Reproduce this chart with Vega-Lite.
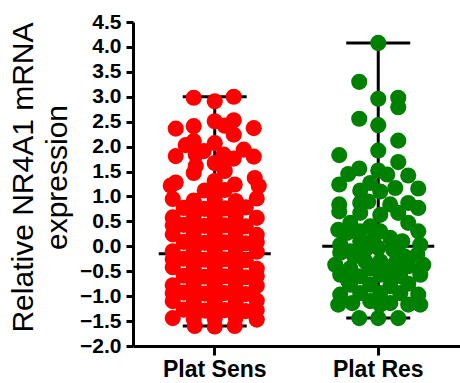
{
  "$schema": "https://vega.github.io/schema/vega-lite/v6.json",
  "width": 327,
  "height": 324,
  "autosize": {"type": "none"},
  "padding": {"left": 133, "top": 22, "right": 0, "bottom": 37},
  "background": "white",
  "config": {"view": {"stroke": null}, "font": "Liberation Sans"},
  "datasets": {
    "summary": [
      {"group": "Plat Sens", "min": -1.6, "median": -0.15, "max": 3.0},
      {"group": "Plat Res", "min": -1.44, "median": 0.0, "max": 4.08}
    ],
    "points": [
      {"group": "Plat Sens", "value": 2.98, "slot": -1.05},
      {"group": "Plat Sens", "value": 2.91, "slot": 0},
      {"group": "Plat Sens", "value": 3.0, "slot": 0.95},
      {"group": "Plat Sens", "value": 2.51, "slot": 0},
      {"group": "Plat Sens", "value": 2.53, "slot": 0.95},
      {"group": "Plat Sens", "value": 2.36, "slot": -1.95},
      {"group": "Plat Sens", "value": 2.41, "slot": -1.05},
      {"group": "Plat Sens", "value": 2.37, "slot": 1.95},
      {"group": "Plat Sens", "value": 2.42, "slot": 0.5},
      {"group": "Plat Sens", "value": 2.24, "slot": 0.95},
      {"group": "Plat Sens", "value": 2.07, "slot": 0},
      {"group": "Plat Sens", "value": 2.03, "slot": -1.45},
      {"group": "Plat Sens", "value": 2.11, "slot": -1.05},
      {"group": "Plat Sens", "value": 1.94, "slot": 1.45},
      {"group": "Plat Sens", "value": 1.81, "slot": -1.95},
      {"group": "Plat Sens", "value": 1.8, "slot": 1.95},
      {"group": "Plat Sens", "value": 1.84, "slot": -0.95},
      {"group": "Plat Sens", "value": 1.91, "slot": -0.55},
      {"group": "Plat Sens", "value": 1.84, "slot": 0.45},
      {"group": "Plat Sens", "value": 1.76, "slot": 0.95},
      {"group": "Plat Sens", "value": 1.67, "slot": 0},
      {"group": "Plat Sens", "value": 1.61, "slot": -0.95},
      {"group": "Plat Sens", "value": 1.57, "slot": 0.45},
      {"group": "Plat Sens", "value": 1.22, "slot": -2.2},
      {"group": "Plat Sens", "value": 1.28, "slot": -1.95},
      {"group": "Plat Sens", "value": 1.37, "slot": 2.0},
      {"group": "Plat Sens", "value": 1.21, "slot": 2.2},
      {"group": "Plat Sens", "value": 1.31, "slot": 0},
      {"group": "Plat Sens", "value": 1.24, "slot": 1.0},
      {"group": "Plat Sens", "value": 1.47, "slot": -1.05},
      {"group": "Plat Sens", "value": 1.51, "slot": 0.5},
      {"group": "Plat Sens", "value": 1.12, "slot": -0.5},
      {"group": "Plat Sens", "value": 1.13, "slot": 0.5},
      {"group": "Plat Sens", "value": 1.05, "slot": 0},
      {"group": "Plat Sens", "value": 0.95, "slot": -2.1},
      {"group": "Plat Sens", "value": 0.92, "slot": -1.05},
      {"group": "Plat Sens", "value": 0.94, "slot": 0},
      {"group": "Plat Sens", "value": 0.91, "slot": 1.05},
      {"group": "Plat Sens", "value": 0.96, "slot": 2.1},
      {"group": "Plat Sens", "value": 0.77, "slot": -1.55},
      {"group": "Plat Sens", "value": 0.75, "slot": -0.5},
      {"group": "Plat Sens", "value": 0.76, "slot": 0.5},
      {"group": "Plat Sens", "value": 0.78, "slot": 1.55},
      {"group": "Plat Sens", "value": 0.74, "slot": -1.05},
      {"group": "Plat Sens", "value": 0.79, "slot": 0},
      {"group": "Plat Sens", "value": 0.77, "slot": 1.05},
      {"group": "Plat Sens", "value": 0.58, "slot": -2.1},
      {"group": "Plat Sens", "value": 0.6, "slot": -1.05},
      {"group": "Plat Sens", "value": 0.59, "slot": 0},
      {"group": "Plat Sens", "value": 0.61, "slot": 1.05},
      {"group": "Plat Sens", "value": 0.57, "slot": 2.1},
      {"group": "Plat Sens", "value": 0.43, "slot": -1.55},
      {"group": "Plat Sens", "value": 0.41, "slot": -0.5},
      {"group": "Plat Sens", "value": 0.42, "slot": 0.5},
      {"group": "Plat Sens", "value": 0.4, "slot": 1.55},
      {"group": "Plat Sens", "value": 0.42, "slot": -2.1},
      {"group": "Plat Sens", "value": 0.44, "slot": -1.05},
      {"group": "Plat Sens", "value": 0.41, "slot": 0},
      {"group": "Plat Sens", "value": 0.43, "slot": 1.05},
      {"group": "Plat Sens", "value": 0.24, "slot": -2.1},
      {"group": "Plat Sens", "value": 0.26, "slot": -1.05},
      {"group": "Plat Sens", "value": 0.25, "slot": 0},
      {"group": "Plat Sens", "value": 0.27, "slot": 1.05},
      {"group": "Plat Sens", "value": 0.23, "slot": 2.1},
      {"group": "Plat Sens", "value": 0.09, "slot": -1.55},
      {"group": "Plat Sens", "value": 0.07, "slot": -0.5},
      {"group": "Plat Sens", "value": 0.08, "slot": 0.5},
      {"group": "Plat Sens", "value": 0.06, "slot": 1.55},
      {"group": "Plat Sens", "value": 0.08, "slot": -1.05},
      {"group": "Plat Sens", "value": 0.07, "slot": 0},
      {"group": "Plat Sens", "value": 0.09, "slot": 1.05},
      {"group": "Plat Sens", "value": 0.08, "slot": 2.1},
      {"group": "Plat Sens", "value": -0.1, "slot": -2.1},
      {"group": "Plat Sens", "value": -0.08, "slot": -1.05},
      {"group": "Plat Sens", "value": -0.09, "slot": 0},
      {"group": "Plat Sens", "value": -0.07, "slot": 1.05},
      {"group": "Plat Sens", "value": -0.11, "slot": 2.1},
      {"group": "Plat Sens", "value": -0.25, "slot": -1.55},
      {"group": "Plat Sens", "value": -0.27, "slot": -0.5},
      {"group": "Plat Sens", "value": -0.26, "slot": 0.5},
      {"group": "Plat Sens", "value": -0.28, "slot": 1.55},
      {"group": "Plat Sens", "value": -0.26, "slot": -2.1},
      {"group": "Plat Sens", "value": -0.25, "slot": -1.05},
      {"group": "Plat Sens", "value": -0.27, "slot": 0},
      {"group": "Plat Sens", "value": -0.26, "slot": 1.05},
      {"group": "Plat Sens", "value": -0.42, "slot": -2.1},
      {"group": "Plat Sens", "value": -0.44, "slot": -1.05},
      {"group": "Plat Sens", "value": -0.43, "slot": 0},
      {"group": "Plat Sens", "value": -0.41, "slot": 1.05},
      {"group": "Plat Sens", "value": -0.45, "slot": 2.1},
      {"group": "Plat Sens", "value": -0.59, "slot": -1.55},
      {"group": "Plat Sens", "value": -0.61, "slot": -0.5},
      {"group": "Plat Sens", "value": -0.6, "slot": 0.5},
      {"group": "Plat Sens", "value": -0.62, "slot": 1.55},
      {"group": "Plat Sens", "value": -0.6, "slot": -1.05},
      {"group": "Plat Sens", "value": -0.61, "slot": 0},
      {"group": "Plat Sens", "value": -0.59, "slot": 1.05},
      {"group": "Plat Sens", "value": -0.6, "slot": 2.1},
      {"group": "Plat Sens", "value": -0.78, "slot": -2.1},
      {"group": "Plat Sens", "value": -0.76, "slot": -1.05},
      {"group": "Plat Sens", "value": -0.77, "slot": 0},
      {"group": "Plat Sens", "value": -0.75, "slot": 1.05},
      {"group": "Plat Sens", "value": -0.79, "slot": 2.1},
      {"group": "Plat Sens", "value": -0.93, "slot": -1.55},
      {"group": "Plat Sens", "value": -0.95, "slot": -0.5},
      {"group": "Plat Sens", "value": -0.94, "slot": 0.5},
      {"group": "Plat Sens", "value": -0.96, "slot": 1.55},
      {"group": "Plat Sens", "value": -0.94, "slot": -2.1},
      {"group": "Plat Sens", "value": -0.95, "slot": -1.05},
      {"group": "Plat Sens", "value": -0.93, "slot": 0},
      {"group": "Plat Sens", "value": -0.94, "slot": 1.05},
      {"group": "Plat Sens", "value": -1.1, "slot": -2.1},
      {"group": "Plat Sens", "value": -1.12, "slot": -1.05},
      {"group": "Plat Sens", "value": -1.11, "slot": 0},
      {"group": "Plat Sens", "value": -1.13, "slot": 1.05},
      {"group": "Plat Sens", "value": -1.09, "slot": 2.1},
      {"group": "Plat Sens", "value": -1.27, "slot": -1.55},
      {"group": "Plat Sens", "value": -1.29, "slot": -0.5},
      {"group": "Plat Sens", "value": -1.28, "slot": 0.5},
      {"group": "Plat Sens", "value": -1.3, "slot": 1.55},
      {"group": "Plat Sens", "value": -1.28, "slot": -1.05},
      {"group": "Plat Sens", "value": -1.27, "slot": 0},
      {"group": "Plat Sens", "value": -1.29, "slot": 1.05},
      {"group": "Plat Sens", "value": -1.28, "slot": 2.1},
      {"group": "Plat Sens", "value": -1.44, "slot": -2.1},
      {"group": "Plat Sens", "value": -1.46, "slot": -1.05},
      {"group": "Plat Sens", "value": -1.45, "slot": 0},
      {"group": "Plat Sens", "value": -1.43, "slot": 1.05},
      {"group": "Plat Sens", "value": -1.47, "slot": 2.1},
      {"group": "Plat Sens", "value": -1.6, "slot": -1.0},
      {"group": "Plat Sens", "value": -1.61, "slot": 0},
      {"group": "Plat Sens", "value": -1.6, "slot": 1.0},
      {"group": "Plat Res", "value": 4.08, "slot": 0},
      {"group": "Plat Res", "value": 3.3, "slot": -0.95},
      {"group": "Plat Res", "value": 2.96, "slot": 0},
      {"group": "Plat Res", "value": 2.98, "slot": 1.0},
      {"group": "Plat Res", "value": 2.79, "slot": 1.0},
      {"group": "Plat Res", "value": 2.56, "slot": -0.95},
      {"group": "Plat Res", "value": 2.43, "slot": 0},
      {"group": "Plat Res", "value": 2.12, "slot": 1.0},
      {"group": "Plat Res", "value": 1.83, "slot": -1.95},
      {"group": "Plat Res", "value": 1.92, "slot": 0},
      {"group": "Plat Res", "value": 1.69, "slot": 1.0},
      {"group": "Plat Res", "value": 1.56, "slot": -0.95},
      {"group": "Plat Res", "value": 1.45, "slot": -1.5},
      {"group": "Plat Res", "value": 1.52, "slot": 0},
      {"group": "Plat Res", "value": 1.44, "slot": 0.45},
      {"group": "Plat Res", "value": 1.42, "slot": 1.5},
      {"group": "Plat Res", "value": 1.24, "slot": -1.95},
      {"group": "Plat Res", "value": 1.27, "slot": -0.4},
      {"group": "Plat Res", "value": 1.12, "slot": -0.9},
      {"group": "Plat Res", "value": 1.1, "slot": 0.1},
      {"group": "Plat Res", "value": 1.17, "slot": 0.85},
      {"group": "Plat Res", "value": 1.16, "slot": 2.0},
      {"group": "Plat Res", "value": 0.84, "slot": -1.95},
      {"group": "Plat Res", "value": 0.7, "slot": -1.95},
      {"group": "Plat Res", "value": 0.87, "slot": -0.9},
      {"group": "Plat Res", "value": 0.9, "slot": -0.5},
      {"group": "Plat Res", "value": 0.84, "slot": 0.6},
      {"group": "Plat Res", "value": 0.87, "slot": 1.5},
      {"group": "Plat Res", "value": 0.77, "slot": 2.0},
      {"group": "Plat Res", "value": 0.67, "slot": -0.9},
      {"group": "Plat Res", "value": 0.67, "slot": 1.0},
      {"group": "Plat Res", "value": 0.63, "slot": 0.1},
      {"group": "Plat Res", "value": 0.33, "slot": -2.0},
      {"group": "Plat Res", "value": 0.47, "slot": -1.4},
      {"group": "Plat Res", "value": 0.4, "slot": -0.4},
      {"group": "Plat Res", "value": 0.47, "slot": 1.5},
      {"group": "Plat Res", "value": 0.3, "slot": 2.0},
      {"group": "Plat Res", "value": 0.27, "slot": -1.55},
      {"group": "Plat Res", "value": 0.3, "slot": -0.9},
      {"group": "Plat Res", "value": 0.3, "slot": 0.1},
      {"group": "Plat Res", "value": 0.17, "slot": 0.6},
      {"group": "Plat Res", "value": 0.03, "slot": -1.9},
      {"group": "Plat Res", "value": 0.1, "slot": -0.9},
      {"group": "Plat Res", "value": 0.13, "slot": -0.25},
      {"group": "Plat Res", "value": 0.1, "slot": 1.2},
      {"group": "Plat Res", "value": 0.03, "slot": 2.1},
      {"group": "Plat Res", "value": -0.03, "slot": 0},
      {"group": "Plat Res", "value": -0.13, "slot": -1.9},
      {"group": "Plat Res", "value": -0.1, "slot": -1.4},
      {"group": "Plat Res", "value": -0.07, "slot": -0.65},
      {"group": "Plat Res", "value": -0.07, "slot": 0.75},
      {"group": "Plat Res", "value": -0.17, "slot": 1.95},
      {"group": "Plat Res", "value": -0.2, "slot": -1.2},
      {"group": "Plat Res", "value": -0.2, "slot": 1.3},
      {"group": "Plat Res", "value": -0.37, "slot": -2.15},
      {"group": "Plat Res", "value": -0.44, "slot": -1.4},
      {"group": "Plat Res", "value": -0.3, "slot": -0.65},
      {"group": "Plat Res", "value": -0.3, "slot": 0.1},
      {"group": "Plat Res", "value": -0.34, "slot": 0.85},
      {"group": "Plat Res", "value": -0.4, "slot": 1.5},
      {"group": "Plat Res", "value": -0.37, "slot": 2.25},
      {"group": "Plat Res", "value": -0.45, "slot": -0.4},
      {"group": "Plat Res", "value": -0.5, "slot": 0.6},
      {"group": "Plat Res", "value": -0.57, "slot": -1.9},
      {"group": "Plat Res", "value": -0.6, "slot": -0.9},
      {"group": "Plat Res", "value": -0.57, "slot": 0.1},
      {"group": "Plat Res", "value": -0.6, "slot": 1.1},
      {"group": "Plat Res", "value": -0.57, "slot": 2.1},
      {"group": "Plat Res", "value": -0.7, "slot": -1.5},
      {"group": "Plat Res", "value": -0.75, "slot": 1.5},
      {"group": "Plat Res", "value": -0.77, "slot": -0.4},
      {"group": "Plat Res", "value": -0.8, "slot": 0.6},
      {"group": "Plat Res", "value": -0.77, "slot": -1.4},
      {"group": "Plat Res", "value": -0.97, "slot": -1.9},
      {"group": "Plat Res", "value": -0.94, "slot": -0.9},
      {"group": "Plat Res", "value": -0.94, "slot": 0.1},
      {"group": "Plat Res", "value": -0.94, "slot": 1.1},
      {"group": "Plat Res", "value": -0.97, "slot": 2.0},
      {"group": "Plat Res", "value": -1.17, "slot": -2.0},
      {"group": "Plat Res", "value": -1.14, "slot": -1.3},
      {"group": "Plat Res", "value": -1.1, "slot": -0.4},
      {"group": "Plat Res", "value": -1.17, "slot": 0.1},
      {"group": "Plat Res", "value": -1.14, "slot": 0.6},
      {"group": "Plat Res", "value": -1.17, "slot": 1.5},
      {"group": "Plat Res", "value": -1.17, "slot": 2.1},
      {"group": "Plat Res", "value": -1.44, "slot": -0.95},
      {"group": "Plat Res", "value": -1.44, "slot": 0},
      {"group": "Plat Res", "value": -1.44, "slot": 1.0}
    ]
  },
  "encoding": {
    "x": {
      "field": "group",
      "type": "nominal",
      "sort": ["Plat Sens", "Plat Res"],
      "scale": {"paddingInner": 0, "paddingOuter": 0},
      "axis": {
        "title": null,
        "labelAngle": 0,
        "labelFont": "Liberation Sans",
        "labelFontWeight": "bold",
        "labelFontSize": 23,
        "labelColor": "black",
        "labelPadding": 3,
        "domainColor": "black",
        "domainWidth": 3,
        "tickColor": "black",
        "tickWidth": 3,
        "tickSize": 9
      }
    },
    "y": {
      "type": "quantitative",
      "scale": {"domain": [-2, 4.5], "nice": false, "zero": false},
      "axis": {
        "values": [-2, -1.5, -1, -0.5, 0, 0.5, 1, 1.5, 2, 2.5, 3, 3.5, 4, 4.5],
        "format": ".1f",
        "grid": false,
        "labelFont": "Liberation Sans",
        "labelFontWeight": "bold",
        "labelFontSize": 21,
        "labelColor": "black",
        "labelPadding": 5,
        "domainColor": "black",
        "domainWidth": 3,
        "tickColor": "black",
        "tickWidth": 3,
        "tickSize": 7,
        "title": ["Relative NR4A1 mRNA", "expression"],
        "titleFont": "Liberation Sans",
        "titleFontWeight": "normal",
        "titleFontSize": 30,
        "titleColor": "black",
        "titleAngle": -90,
        "titleAlign": "center",
        "titleBaseline": "alphabetic",
        "titleLineHeight": 34,
        "titleX": -101,
        "titleY": 155
      }
    }
  },
  "layer": [
    {
      "data": {"name": "summary"},
      "mark": {"type": "rule", "color": "black", "strokeWidth": 3, "opacity": 1},
      "encoding": {"y": {"field": "min"}, "y2": {"field": "max"}}
    },
    {
      "data": {"name": "summary"},
      "mark": {"type": "tick", "color": "black", "size": 64, "thickness": 3, "orient": "horizontal", "opacity": 1},
      "encoding": {"y": {"field": "min"}}
    },
    {
      "data": {"name": "summary"},
      "mark": {"type": "tick", "color": "black", "size": 64, "thickness": 3, "orient": "horizontal", "opacity": 1},
      "encoding": {"y": {"field": "max"}}
    },
    {
      "data": {"name": "summary"},
      "mark": {"type": "tick", "color": "black", "size": 112, "thickness": 3, "orient": "horizontal", "opacity": 1},
      "encoding": {"y": {"field": "median"}}
    },
    {
      "data": {"name": "points"},
      "mark": {"type": "circle", "size": 260, "opacity": 1},
      "encoding": {
        "y": {"field": "value"},
        "xOffset": {"field": "slot", "type": "quantitative", "scale": {"domain": [-4.0875, 4.0875]}},
        "color": {
          "field": "group",
          "type": "nominal",
          "scale": {"domain": ["Plat Sens", "Plat Res"], "range": ["#ff0000", "#008000"]},
          "legend": null
        }
      }
    }
  ]
}
